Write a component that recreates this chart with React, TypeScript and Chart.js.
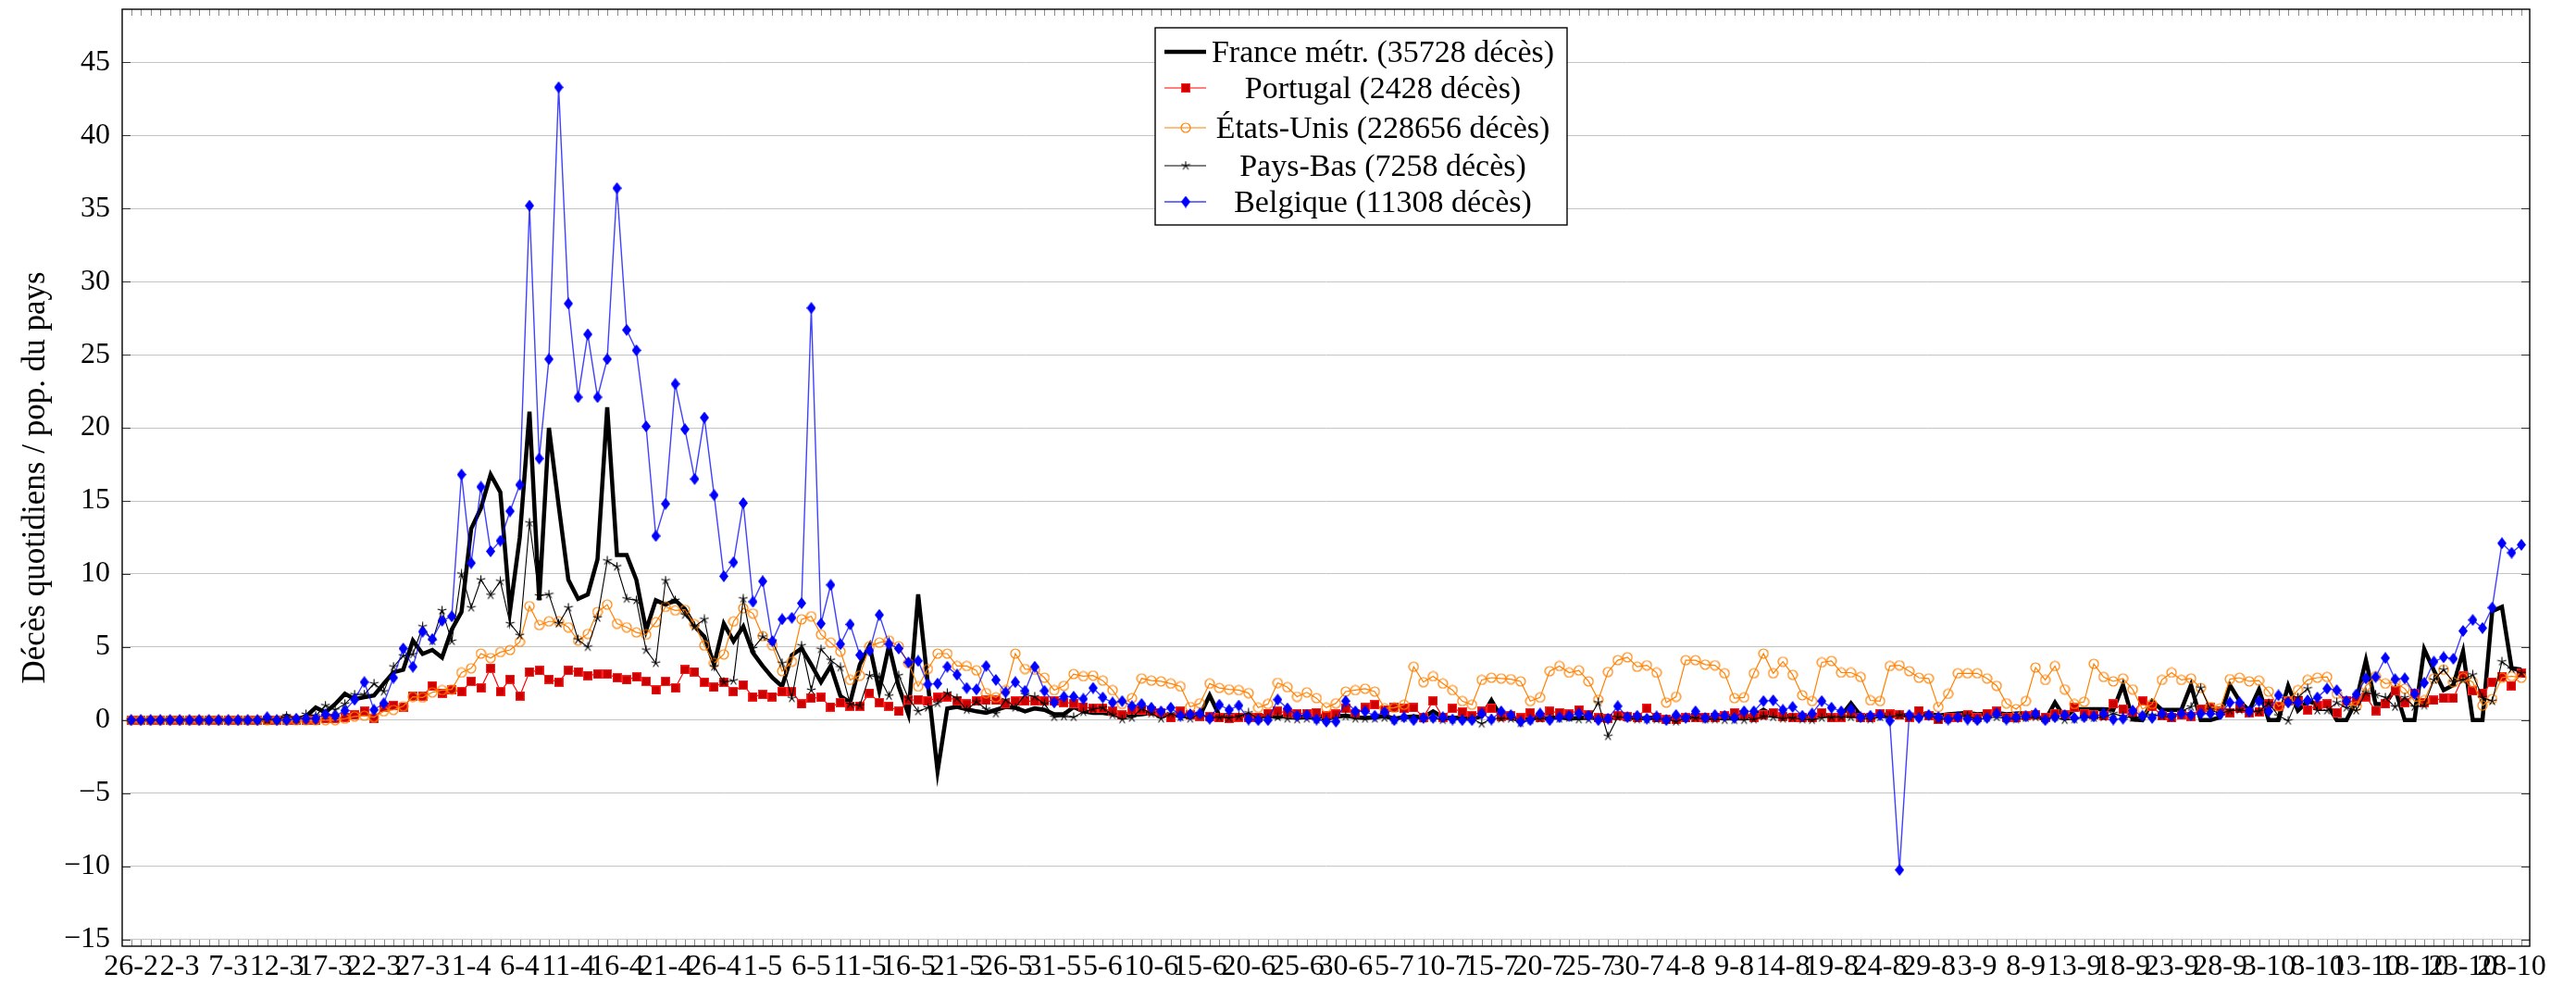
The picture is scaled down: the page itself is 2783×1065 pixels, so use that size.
import React, { useEffect, useRef } from "react";
import { Chart, registerables } from "chart.js";
Chart.register(...registerables);

// Tick labels every 5 days starting 26-2 (2020)
const tickLabels = ["26-2","2-3","7-3","12-3","17-3","22-3","27-3","1-4","6-4","11-4","16-4","21-4","26-4","1-5","6-5","11-5","16-5","21-5","26-5","31-5","5-6","10-6","15-6","20-6","25-6","30-6","5-7","10-7","15-7","20-7","25-7","30-7","4-8","9-8","14-8","19-8","24-8","29-8","3-9","8-9","13-9","18-9","23-9","28-9","3-10","8-10","13-10","18-10","23-10","28-10"];
const tickStep = 5;
const yTicks = [-15,-10,-5,0,5,10,15,20,25,30,35,40,45];

const seriesNames = [
  "France métr. (35728 décès)",
  "Portugal (2428 décès)",
  "États-Unis (228656 décès)",
  "Pays-Bas (7258 décès)",
  "Belgique (11308 décès)",
];

const france = [
  0,0,0,0,0,0,0,0,0,0,
  0,0,0,0,0,0,0.3,0,0.26,0.86,
  0.52,1.1,1.8,1.43,1.57,1.68,2.5,3.27,3.44,5.44,
  4.53,4.8,4.28,6.2,7.4,13.1,14.5,16.8,15.6,7.5,
  12.5,21.1,8.2,20.0,14.7,9.6,8.3,8.6,11.0,21.4,
  11.3,11.3,9.6,6.15,8.2,7.9,8.2,7.6,6.4,5.7,
  3.8,6.6,5.4,6.4,4.6,3.7,2.9,2.3,4.45,4.9,
  3.8,2.6,3.7,1.65,1.2,3.8,5.1,2.0,5.1,2.3,
  0.4,8.6,2.5,-3.5,0.8,0.9,0.75,0.6,0.5,0.7,
  0.9,0.85,0.6,0.8,0.7,0.4,0.4,0.9,0.6,0.5,
  0.5,0.4,0.3,0.35,0.4,0.5,0.3,0.35,0.3,0.3,
  0.3,1.7,0.3,0.35,0.3,0.3,0.25,0.3,0.2,0.3,
  0.25,0.2,0.3,0.2,0.25,0.3,0.2,0.15,0.2,0.3,
  0.1,0.2,0.25,0.2,0.6,0.2,0.15,0.2,0.1,0.25,
  1.35,0.2,0.1,0.15,0.2,0.1,0.15,0.2,0.1,0.15,
  0.2,0.1,0.15,0.2,0.2,0.1,0.15,0.2,0.1,0.15,
  0.2,0.15,0.1,0.2,0.25,0.15,0.2,0.3,0.7,0.3,
  0.25,0.3,0.2,0.25,0.3,0.35,0.3,1.15,0.3,0.3,
  0.35,0.4,0.3,0.35,0.4,0.45,0.3,0.4,0.45,0.5,
  0.4,0.45,0.5,0.4,0.45,0.5,0.3,0.0,1.2,0.15,
  0.75,0.75,0.75,0.75,0.7,2.4,0.05,0.0,1.3,0.7,
  0.7,0.7,2.4,0.0,0.0,0.2,2.4,1.3,0.65,2.1,
  0,0,2.35,0.65,1.3,1.1,1.1,0,0,1.3,
  4.1,1.1,1.1,2.15,0,0,4.85,3.4,2.05,2.4,
  4.7,0,0,7.45,7.75,3.55,3.45,
];

const portugal = [
  0,0,0,0,0,0,0,0,0,0,
  0,0,0,0,0,0,0,0,0,0,
  0.1,0.1,0.2,0.35,0.6,0.1,0.85,1.0,0.9,1.65,
  1.65,2.35,1.85,2.05,1.95,2.65,2.2,3.55,1.95,2.8,
  1.65,3.3,3.4,2.8,2.6,3.4,3.3,3.05,3.15,3.15,
  2.9,2.75,2.95,2.65,2.05,2.65,2.2,3.45,3.3,2.6,
  2.25,2.6,1.95,2.4,1.6,1.75,1.6,1.95,1.95,1.1,
  1.5,1.55,0.9,1.2,0.95,0.95,1.85,1.2,0.95,0.6,
  1.35,1.4,1.3,1.55,1.6,1.3,1.1,1.3,1.35,1.35,
  1.1,1.3,1.3,1.3,1.3,1.3,1.2,1.15,0.9,0.8,
  0.8,0.6,0.35,0.7,0.7,0.6,0.5,0.15,0.6,0.35,
  0.25,0.25,0.15,0.1,0.2,0.2,0.2,0.45,0.6,0.5,
  0.45,0.45,0.5,0.3,0.4,0.8,0.45,0.85,1.05,0.7,
  0.85,0.8,0.85,0.2,1.3,0.2,0.8,0.55,0.3,0.6,
  0.8,0.25,0.3,0.15,0.5,0.2,0.6,0.5,0.4,0.7,
  0.35,0.15,0.1,0.3,0.25,0.2,0.8,0.15,0.05,0.05,
  0.15,0.2,0.2,0.2,0.3,0.5,0.35,0.2,0.35,0.5,
  0.25,0.2,0.2,0.15,0.5,0.15,0.2,0.45,0.2,0.2,
  0.45,0.4,0.35,0.2,0.65,0.3,0.05,0.2,0.2,0.35,
  0.15,0.45,0.6,0.2,0.2,0.3,0.35,0.2,0.45,0.35,
  0.85,0.45,0.35,0.3,1.1,0.75,0.5,1.3,0.95,0.3,
  0.2,0.35,0.25,0.75,0.85,0.6,0.5,0.8,0.5,0.55,
  1.1,0.95,1.3,1.3,0.7,1.0,1.1,0.5,1.3,1.3,
  1.6,0.65,1.1,2.0,1.2,1.8,1.2,1.35,1.5,1.5,
  3.0,2.0,1.85,2.6,2.95,2.35,3.2,
];

const etatsUnis = [
  0,0,0,0,0,0,0,0,0,0,
  0,0,0,0,0,0,0,0,0,0,
  0,0,0.1,0.25,0.3,0.2,0.6,0.7,0.95,1.6,
  1.55,1.9,2.05,2.1,3.25,3.55,4.55,4.25,4.65,4.8,
  5.35,7.8,6.5,6.75,6.75,6.35,5.45,5.9,7.4,7.9,
  6.6,6.35,6.0,5.85,6.7,7.75,7.5,7.55,6.55,5.1,
  3.9,4.5,6.75,7.65,7.3,5.75,5.1,3.35,4.0,6.9,
  7.1,5.85,5.3,4.7,2.75,3.05,5.05,5.3,5.45,5.05,
  3.9,2.3,3.5,4.55,4.55,3.7,3.7,3.4,1.85,1.55,
  2.05,4.55,3.5,3.45,2.9,2.05,2.35,3.15,3.0,3.05,
  2.7,2.05,1.1,1.5,2.85,2.7,2.65,2.5,2.3,0.9,
  1.15,2.5,2.2,2.1,2.05,1.85,0.85,1.1,2.55,2.25,
  1.6,1.9,1.5,0.85,1.15,1.95,2.05,2.15,1.95,0.8,
  0.85,1.05,3.65,2.6,3.0,2.5,2.05,1.3,1.05,2.75,
  2.9,2.85,2.8,2.65,1.3,1.55,3.35,3.7,3.25,3.4,
  2.65,1.4,3.3,4.1,4.3,3.65,3.75,3.25,1.2,1.6,
  4.1,4.1,3.8,3.75,3.2,1.5,1.55,3.2,4.55,3.2,
  4.0,3.1,1.7,1.3,3.95,4.05,3.25,3.25,2.95,1.35,
  1.3,3.7,3.75,3.35,2.9,2.85,0.9,1.8,3.2,3.2,
  3.2,2.85,2.35,1.15,0.75,1.3,3.6,2.75,3.7,2.1,
  1.1,1.25,3.85,2.95,2.65,2.85,2.1,0.75,1.1,2.75,
  3.25,2.75,2.85,2.2,0.9,0.8,2.8,2.9,2.65,2.7,
  1.95,0.95,1.3,2.05,2.75,2.9,2.95,1.8,1.2,0.95,
  2.35,3.0,2.5,2.6,2.15,1.3,1.35,2.85,3.45,2.6,
  2.9,2.6,1.0,1.45,2.9,3.0,2.9,
];

const paysBas = [
  0,0,0,0,0,0,0,0,0,0,
  0,0,0,0,0,0,0.3,0.1,0.4,0.3,
  1.0,0.7,1.1,1.75,1.75,2.5,1.95,3.65,4.4,4.5,
  6.4,5.4,7.5,5.4,10.0,7.7,9.6,8.55,9.5,6.6,
  5.8,13.5,8.5,8.6,6.6,7.7,5.5,5.0,7.0,10.9,
  10.5,8.3,8.2,4.8,3.9,9.55,8.2,7.2,6.4,6.9,
  3.65,2.6,2.7,8.3,4.9,5.7,5.4,3.9,1.5,5.1,
  2.05,4.85,4.1,3.6,1.1,1.0,3.05,2.95,1.65,3.05,
  1.5,0.6,0.85,1.15,1.85,1.5,0.7,1.25,0.75,0.45,
  1.4,0.85,1.75,1.6,1.1,0.2,0.25,0.2,0.55,0.75,
  0.85,0.35,0.05,0.15,0.8,0.45,0.1,0.45,0.2,0.1,
  0.45,0.15,0.2,0.15,0.25,0.5,0.1,0.15,0.2,0.1,
  0.05,0.1,0.05,0,0.1,0.25,0.1,0.1,0.1,0.15,
  0,0.15,0.1,0.1,0.15,0,0.05,0.1,0.1,-0.25,
  0.1,0.1,0.1,-0.2,0,0.1,0.1,0.1,0.15,0.05,
  0.05,1.2,-1.1,0.2,0.15,0.05,0.05,0.05,0.05,-0.1,
  0.15,0.15,0.05,0.05,0,0,0,0.05,0.25,0.2,
  0.1,0.15,0.05,0,0.15,0.2,0.2,0.2,0.15,0.05,
  0.2,0.2,0.35,0.2,0.2,0.35,0.05,0.05,0.2,0.3,
  0.05,0.15,0.2,0.1,0.05,0.15,0.2,0.05,0.2,0,
  0.05,0.2,0.15,0.2,0.45,0.25,0.15,0.25,0.35,0.3,
  0.15,0.6,0.9,2.2,0.7,0.45,0.65,0.7,0.6,0.6,
  1.15,0.3,-0.05,1.55,2.15,0.65,0.65,1.2,0.85,0.65,
  1.9,1.75,1.55,0.9,1.55,0.9,1.0,2.75,3.45,2.6,
  2.75,3.1,1.55,1.3,4.0,3.5,3.2,
];

const belgique = [
  0,0,0,0,0,0,0,0,0,0,
  0,0,0,0,0.2,0,0,0.1,0.1,0.1,
  0.4,0.3,0.65,1.4,2.6,0.7,1.15,2.9,4.9,3.65,
  6.05,5.55,6.8,7.1,16.8,10.75,15.96,11.55,12.27,14.3,
  16.1,35.2,17.9,24.7,43.3,28.5,22.1,26.4,22.1,24.7,
  36.4,26.7,25.3,20.1,12.6,14.8,23.0,19.9,16.5,20.7,
  15.4,9.85,10.8,14.85,8.1,9.5,5.4,6.9,7.0,8.0,
  28.2,6.6,9.25,5.2,6.55,4.45,4.75,7.2,5.2,4.9,
  3.95,4.05,2.45,2.5,3.65,3.1,2.2,2.1,3.7,2.75,
  1.9,2.6,2.0,3.65,2.0,1.2,1.6,1.6,1.45,2.2,
  1.55,1.2,1.3,0.95,1.1,0.85,0.6,0.85,0.3,0.4,
  0.45,0.1,1.05,0.7,1.0,0.05,0,0,1.4,0.8,
  0.3,0.35,0.05,-0.1,-0.1,1.3,0.6,0.6,0.3,0.55,
  0,0.2,0,0.15,0.15,0.2,0.05,0,0,0.45,
  0.05,0.6,0.35,-0.1,0,0.45,0,0.2,0.3,0.45,
  0.3,0,0.1,0.95,0.2,0.3,0.1,0.25,0,0.35,
  0.15,0.6,0.15,0.35,0.3,0.15,0.6,0.6,1.3,1.35,
  0.7,0.9,0.3,0.45,1.3,0.85,0.6,0.75,0.2,0.3,
  0.35,-0.05,-10.25,0.35,0.15,0.35,0.2,0.05,0.2,0.05,
  0,0.15,0.45,0.05,0.2,0.25,0.45,0,0.2,0.35,
  0.15,0.2,0.25,0.45,0.05,0.1,0.65,0.3,0.15,0.45,
  0.3,0.45,0.35,0.45,0.45,0.4,1.2,1.2,0.6,1.3,
  0.6,1.7,1.2,1.2,1.35,1.55,2.15,2.05,1.3,1.75,
  2.85,2.95,4.25,2.8,2.85,1.8,2.55,4.0,4.3,4.2,
  6.1,6.85,6.3,7.7,12.1,11.45,12.0,
];

const FONT = "'Liberation Serif', 'Times New Roman', serif";

function makeStar(size: number, color: string) {
  const c = document.createElement("canvas");
  c.width = size; c.height = size;
  const g = c.getContext("2d")!;
  g.strokeStyle = color; g.lineWidth = 1.1; g.lineCap = "butt";
  const cx = size / 2, r = size / 2 - 0.5;
  for (let k = 0; k < 5; k++) {
    const a = Math.PI / 2 + (k * 2 * Math.PI) / 5;
    g.beginPath(); g.moveTo(cx, cx); g.lineTo(cx + r * Math.cos(a), cx - r * Math.sin(a)); g.stroke();
  }
  return c;
}
function makeDiamond(w: number, h: number, color: string) {
  const c = document.createElement("canvas");
  c.width = w; c.height = h;
  const g = c.getContext("2d")!;
  g.fillStyle = color;
  g.beginPath(); g.moveTo(w / 2, 0); g.lineTo(w, h / 2); g.lineTo(w / 2, h); g.lineTo(0, h / 2); g.closePath(); g.fill();
  return c;
}
function makeSquare(s: number, fill: string, edge: string) {
  const c = document.createElement("canvas");
  c.width = s; c.height = s;
  const g = c.getContext("2d")!;
  g.fillStyle = fill; g.fillRect(0, 0, s, s);
  g.strokeStyle = edge; g.lineWidth = 1; g.strokeRect(0.5, 0.5, s - 1, s - 1);
  return c;
}
function makeCircle(d: number, color: string) {
  const c = document.createElement("canvas");
  c.width = d; c.height = d;
  const g = c.getContext("2d")!;
  g.strokeStyle = color; g.lineWidth = 1.2;
  g.beginPath(); g.arc(d / 2, d / 2, d / 2 - 1, 0, Math.PI * 2); g.stroke();
  return c;
}

export default function App() {
  const ref = useRef<HTMLCanvasElement | null>(null);
  useEffect(() => {
    const canvas = ref.current!;
    const star = makeStar(11, "#000000");
    const diamond = makeDiamond(10, 13, "#0000ff");
    const square = makeSquare(10, "#cc0000", "#ff2020");
    const circle = makeCircle(12, "#ff8000");
    const pts = (arr: number[]) => arr.map((v, i) => ({ x: i, y: v }));

    const styles = [
      { color: "#000000", width: 4.5, marker: null as any },
      { color: "#ff0000", width: 1.2, marker: square },
      { color: "#ff8000", width: 1.2, marker: circle },
      { color: "#000000", width: 1.1, marker: star },
      { color: "rgba(0,0,255,0.75)", width: 1.4, marker: diamond },
    ];

    const frame = {
      id: "frame",
      afterDatasetsDraw(chart: any) {
        const { ctx, chartArea: a, scales } = chart;
        const x = scales.x, y = scales.y;
        ctx.save();
        ctx.strokeStyle = "#8c8c8c"; ctx.lineWidth = 1;
        for (let i = 0; i < france.length; i++) {
          const px = Math.round(x.getPixelForValue(i)) + 0.5;
          ctx.beginPath();
          ctx.moveTo(px, a.bottom); ctx.lineTo(px, a.bottom - 7);
          ctx.moveTo(px, a.top); ctx.lineTo(px, a.top + 7);
          ctx.stroke();
        }
        ctx.strokeStyle = "#333333";
        for (const v of yTicks) {
          const py = Math.round(y.getPixelForValue(v)) + 0.5;
          ctx.beginPath();
          ctx.moveTo(a.left, py); ctx.lineTo(a.left + 9, py);
          ctx.moveTo(a.right, py); ctx.lineTo(a.right - 9, py);
          ctx.stroke();
        }
        ctx.strokeStyle = "#000"; ctx.lineWidth = 1.4;
        ctx.strokeRect(a.left, a.top, a.right - a.left, a.bottom - a.top);
        ctx.restore();
      },
      afterDraw(chart: any) {
        const { ctx, chartArea: a } = chart;
        ctx.save();
        // y-axis title
        ctx.translate(39, (a.top + a.bottom) / 2);
        ctx.rotate(-Math.PI / 2);
        ctx.fillStyle = "#000";
        ctx.font = `35px ${FONT}`;
        ctx.textAlign = "center"; ctx.textBaseline = "middle";
        ctx.fillText("Décès quotidiens / pop. du pays", 0, 0);
        ctx.restore();

        // legend
        ctx.save();
        const bx = 1248, by = 30, bw = 445, bh = 213;
        ctx.fillStyle = "#fff"; ctx.fillRect(bx, by, bw, bh);
        ctx.strokeStyle = "#000"; ctx.lineWidth = 1.4; ctx.strokeRect(bx, by, bw, bh);
        const rows = [56, 95, 138, 179, 218];
        ctx.font = `34px ${FONT}`;
        ctx.textAlign = "center"; ctx.textBaseline = "middle";
        seriesNames.forEach((name, k) => {
          const st = styles[k];
          const ry = rows[k];
          ctx.strokeStyle = st.color; ctx.lineWidth = st.width;
          ctx.beginPath(); ctx.moveTo(1258, ry); ctx.lineTo(1303, ry); ctx.stroke();
          if (st.marker) {
            const m = st.marker as HTMLCanvasElement;
            ctx.drawImage(m, 1281 - m.width / 2, ry - m.height / 2);
          }
          ctx.fillStyle = "#000";
          ctx.fillText(name, 1494, ry + 2);
        });
        ctx.restore();
      },
    };

    const data = [france, portugal, etatsUnis, paysBas, belgique];
    const chart = new Chart(canvas, {
      type: "line",
      data: {
        datasets: data.map((arr, k) => ({
          label: seriesNames[k],
          data: pts(arr),
          borderColor: styles[k].color,
          borderWidth: styles[k].width,
          backgroundColor: "transparent",
          pointStyle: styles[k].marker ? styles[k].marker : false,
          pointRadius: styles[k].marker ? 5 : 0,
          pointHoverRadius: styles[k].marker ? 5 : 0,
          tension: 0,
          fill: false,
          order: 5 - k,
          borderJoinStyle: "miter" as const,
        })),
      },
      options: {
        responsive: false,
        devicePixelRatio: 1,
        animation: false,
        events: [],
        layout: { padding: { top: 10, right: 50, left: 0, bottom: 0 } },
        plugins: { legend: { display: false }, tooltip: { enabled: false } },
        scales: {
          x: {
            type: "linear",
            min: -0.92,
            max: 246.86,
            grid: { display: false, drawTicks: false },
            border: { display: false },
            afterBuildTicks: (scale: any) => {
              scale.ticks = tickLabels.map((_, k) => ({ value: k * tickStep }));
            },
            afterFit: (scale: any) => {
              scale.height = 43;
              scale.paddingLeft = 0; scale.paddingRight = 0;
            },
            ticks: {
              autoSkip: false,
              maxRotation: 0,
              minRotation: 0,
              padding: 3,
              color: "#000",
              font: { family: FONT, size: 32 },
              callback: (v: any) => tickLabels[Math.round(Number(v) / tickStep)] ?? "",
            },
          },
          y: {
            type: "linear",
            min: -15.47,
            max: 48.64,
            grid: { color: "#c4c4c4", lineWidth: 1, drawTicks: false },
            border: { display: false },
            afterBuildTicks: (scale: any) => {
              scale.ticks = yTicks.map((v) => ({ value: v }));
            },
            afterFit: (scale: any) => {
              scale.width = 132;
              scale.paddingTop = 0; scale.paddingBottom = 0;
            },
            ticks: {
              padding: 13,
              color: "#000",
              font: { family: FONT, size: 32 },
              callback: (v: any) => (Number(v) < 0 ? "\u2212" + Math.abs(Number(v)) : String(v)),
            },
          },
        },
      },
      plugins: [frame],
    } as any);
    return () => chart.destroy();
  }, []);

  return (
    <div style={{ position: "fixed", left: 0, top: 0, width: 2783, height: 1065, background: "#fff" }}>
      <canvas ref={ref} width={2783} height={1065} style={{ display: "block" }} />
    </div>
  );
}
